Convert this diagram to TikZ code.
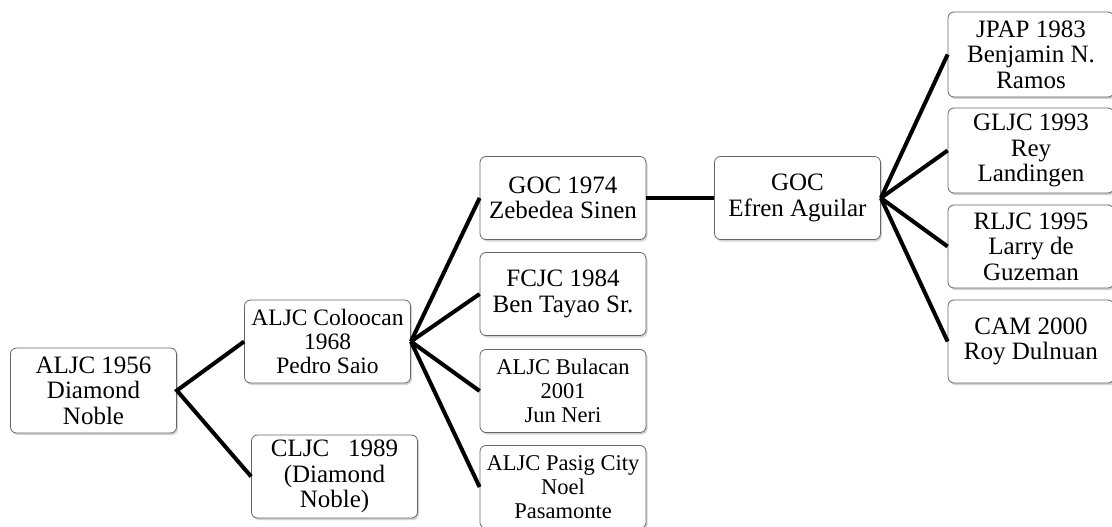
\documentclass[tikz,border=0pt]{standalone}
\usepackage{fontspec}
\setmainfont{Liberation Serif}
\usetikzlibrary{shadows}
\begin{document}
\begin{tikzpicture}[x=1pt,y=-1pt,
  box/.style={draw=black!60, line width=0.8pt, rounded corners=6pt, fill=white,
    drop shadow={shadow xshift=1.5pt, shadow yshift=-2pt, opacity=0.35},
    align=center, inner sep=1pt, minimum width=166pt, minimum height=83pt,
    font=\fontsize{25}{25.5}\selectfont},
  narrow/.style={font=\fontsize{22.5}{24}\selectfont},
  link/.style={line width=4pt, color=black}]
\useasboundingbox (0,0) rectangle (1112,527);
% first line
\node[box, minimum height=85pt] (aljc) at (93.5,390.5) {ALJC 1956\\Diamond\\Noble};
\node[box, font=\fontsize{23.5}{24}\selectfont] (coloocan) at (327.5,341.5) {ALJC Coloocan\\1968\\Pedro Saio};
\node[box] (cljc) at (334.5,476.5) {CLJC\ \ \ 1989\\(Diamond\\Noble)};
% under Coloocan
\node[box] (goc74) at (563,198) {GOC 1974\\Zebedea Sinen};
\node[box] (fcjc) at (563,294) {FCJC 1984\\Ben Tayao Sr.};
\node[box, narrow] (bulacan) at (563,391) {ALJC Bulacan\\2001\\Jun Neri};
\node[box, narrow] (pasig) at (563,487) {ALJC Pasig City\\Noel\\Pasamonte};
% GOC
\node[box] (goc) at (797.5,198) {GOC\\Efren Aguilar};
\node[box, minimum height=85pt] (jpap) at (1031,54.5) {JPAP 1983\\Benjamin N.\\Ramos};
\node[box, minimum height=85pt] (gljc) at (1031,150.5) {GLJC 1993\\Rey\\Landingen};
\node[box] (rljc) at (1031,246.5) {RLJC 1995\\Larry de\\Guzeman};
\node[box] (cam) at (1031,341.5) {CAM 2000\\Roy Dulnuan};
\draw[link] (coloocan.west) -- (aljc.east) -- (cljc.west);
\foreach \n in {goc74,fcjc,bulacan,pasig}
  \draw[link] (coloocan.east) -- (\n.west);
\draw[link] (goc74.east) -- (goc.west);
\foreach \n in {jpap,gljc,rljc,cam}
  \draw[link] (goc.east) -- (\n.west);
\end{tikzpicture}
\end{document}
